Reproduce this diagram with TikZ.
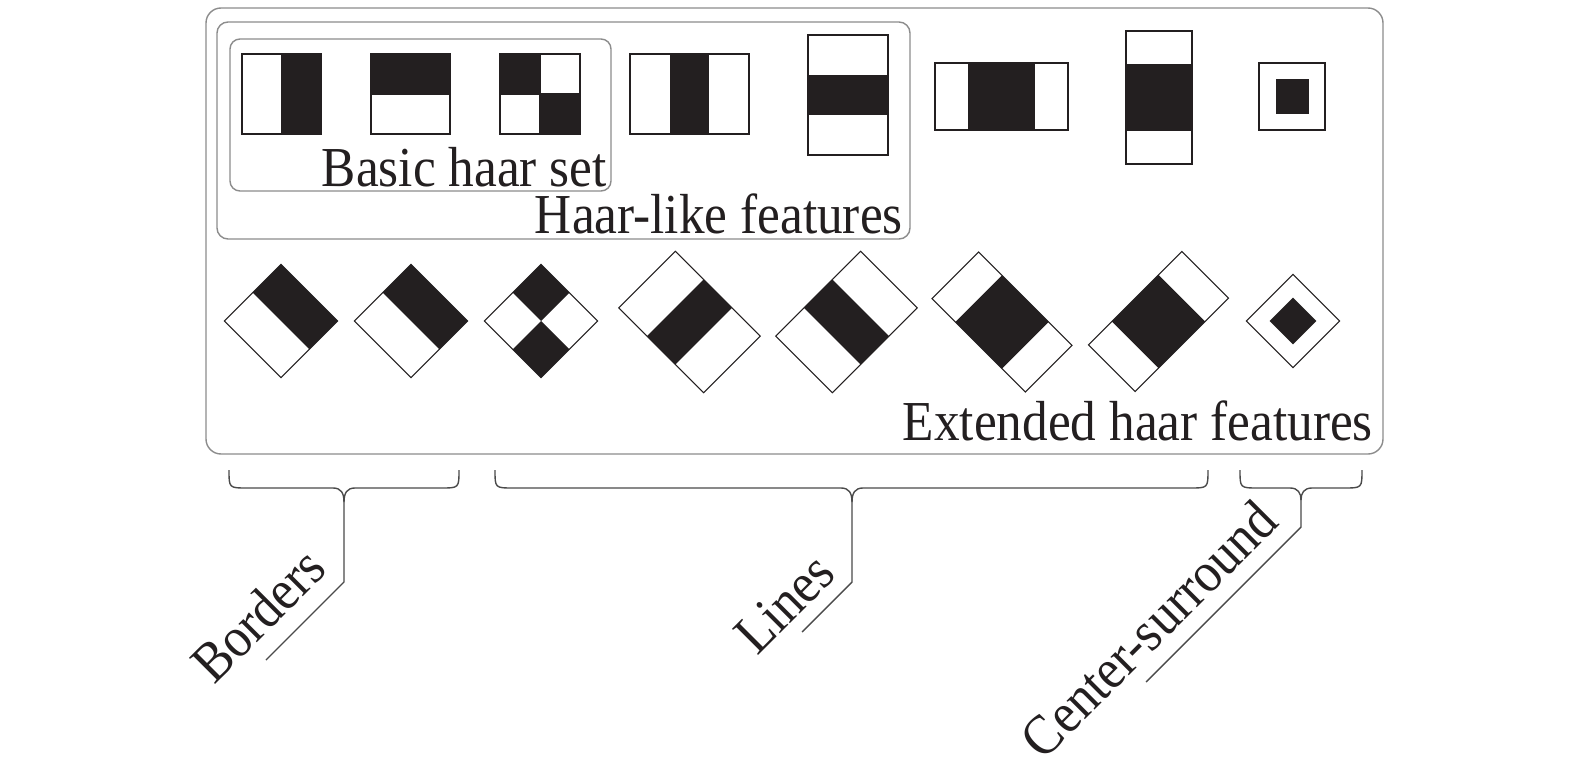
\documentclass[tikz,border=0pt]{standalone}
\usepackage{fontspec}
\setmainfont{Liberation Serif}
\usetikzlibrary{calc}
\definecolor{ink}{HTML}{231F20}
\definecolor{boxgray}{HTML}{8C8C8C}
\definecolor{bracegray}{HTML}{4A4A4A}
\newcommand\stretchtxt[1]{\scalebox{1}[1.1]{#1}}
% brace: xl, xr, xt, ytop, yh, ytip
\newcommand\hbrace[6]{%
  \draw[brace] (#1,#4) .. controls (#1,#5) .. (#1+18,#5) -- (#3-11,#5)
     .. controls (#3-3,#5) and (#3,#5+5) .. (#3,#6);
  \draw[brace] (#2,#4) .. controls (#2,#5) .. (#2-18,#5) -- (#3+11,#5)
     .. controls (#3+3,#5) and (#3,#5+5) .. (#3,#6);
}
\begin{document}
\begin{tikzpicture}[x=1pt,y=-1pt,
  feat/.style={draw=ink, line width=1.6pt},
  rfeat/.style={draw=ink, line width=1.1pt},
  blk/.style={fill=ink},
  frame/.style={draw=boxgray, line width=1.4pt},
  lbl/.style={font=\fontsize{51.3}{60}\selectfont, text=ink, inner sep=0pt},
  brace/.style={draw=bracegray, line width=1.4pt},
]
\useasboundingbox[fill=white] (0,0) rectangle (1575,776);

% frames
\draw[frame, rounded corners=15pt] (206,8) rectangle (1383,454);
\draw[frame, rounded corners=11pt] (217,22) rectangle (910,239);
\draw[frame, rounded corners=10pt] (230,39) rectangle (611,191);

% top row upright features
\fill[blk] (281.5,54) rectangle (321,134);
\draw[feat] (242,54) rectangle (321,134) (281.5,54) -- (281.5,134);

\fill[blk] (371,54) rectangle (450,94);
\draw[feat] (371,54) rectangle (450,134) (371,94) -- (450,94);

\fill[blk] (500,54) rectangle (540,94);
\fill[blk] (540,94) rectangle (580,134);
\draw[feat] (500,54) rectangle (580,134) (540,54) -- (540,134) (500,94) -- (580,94);

\fill[blk] (669.7,54) rectangle (709.3,134);
\draw[feat] (630,54) rectangle (749,134);

\fill[blk] (808,75) rectangle (888,115);
\draw[feat] (808,35) rectangle (888,155);

\fill[blk] (968,63) rectangle (1035,130);
\draw[feat] (935,63) rectangle (1068,130);

\fill[blk] (1126,64.25) rectangle (1192,130.75);
\draw[feat] (1126,31) rectangle (1192,164);

\fill[blk] (1275.5,79.5) rectangle (1308.5,113.5);
\draw[feat] (1259,63) rectangle (1325,130);

% rotated features
\begin{scope}[shift={(281,321)}, rotate=45]
  \fill[blk] (0,-40) rectangle (40,40);
  \draw[rfeat] (-40,-40) rectangle (40,40);
\end{scope}
\begin{scope}[shift={(411,321)}, rotate=45]
  \fill[blk] (0,-40) rectangle (40,40);
  \draw[rfeat] (-40,-40) rectangle (40,40);
\end{scope}
\begin{scope}[shift={(541,321)}, rotate=45]
  \fill[blk] (0,-40) rectangle (40,0);
  \fill[blk] (-40,0) rectangle (0,40);
  \draw[rfeat] (-40,-40) rectangle (40,40);
\end{scope}
\begin{scope}[shift={(689.5,322)}, rotate=-45]
  \fill[blk] (-20,-40) rectangle (20,40);
  \draw[rfeat] (-60,-40) rectangle (60,40);
\end{scope}
\begin{scope}[shift={(846.5,322)}, rotate=45]
  \fill[blk] (-20,-40) rectangle (20,40);
  \draw[rfeat] (-60,-40) rectangle (60,40);
\end{scope}
\begin{scope}[shift={(1002,322)}, rotate=-45]
  \fill[blk] (-33,-33) rectangle (33,33);
  \draw[rfeat] (-66,-33) rectangle (66,33);
\end{scope}
\begin{scope}[shift={(1158.5,321.5)}, rotate=45]
  \fill[blk] (-33,-33) rectangle (33,33);
  \draw[rfeat] (-66,-33) rectangle (66,33);
\end{scope}
\begin{scope}[shift={(1293,321)}, rotate=45]
  \fill[blk] (-16.5,-16.5) rectangle (16.5,16.5);
  \draw[rfeat] (-33,-33) rectangle (33,33);
\end{scope}

% box labels
\node[lbl, anchor=base east] (basic) at (607,186) {\stretchtxt{Basic haar set}};
\node[lbl, anchor=base east] (haarlike) at (903,233) {\stretchtxt{Haar-like features}};
\node[lbl, anchor=base east] (extended) at (1373,440) {\stretchtxt{Extended haar features}};

% braces
\hbrace{229}{459}{344}{470}{488}{502}
\hbrace{495}{1208}{852}{470}{488}{502}
\hbrace{1240}{1362}{1301}{470}{488}{500}

\coordinate (btip) at (344,502);
\coordinate (bknee) at (344,582);
\coordinate (bend) at (266,660);
\coordinate (ltip) at (852,502);
\coordinate (lknee) at (852,582);
\coordinate (lend) at (802,632);
\coordinate (ctip) at (1301,500);
\coordinate (cknee) at (1301,527);
\coordinate (cend) at (1146,682);
\draw[brace] (btip) -- (bknee) -- (bend);
\draw[brace] (ltip) -- (lknee) -- (lend);
\draw[brace] (ctip) -- (cknee) -- (cend);

% rotated labels
\node[lbl, anchor=base east, rotate=45] (borders) at (329,571) {\stretchtxt{Borders}};
\node[lbl, anchor=base east, rotate=45] (lines) at (838,576) {\stretchtxt{Lines}};
\node[lbl, anchor=base east, rotate=45] (centersur) at (1281,524) {\stretchtxt{Center-surround}};
\end{tikzpicture}
\end{document}
